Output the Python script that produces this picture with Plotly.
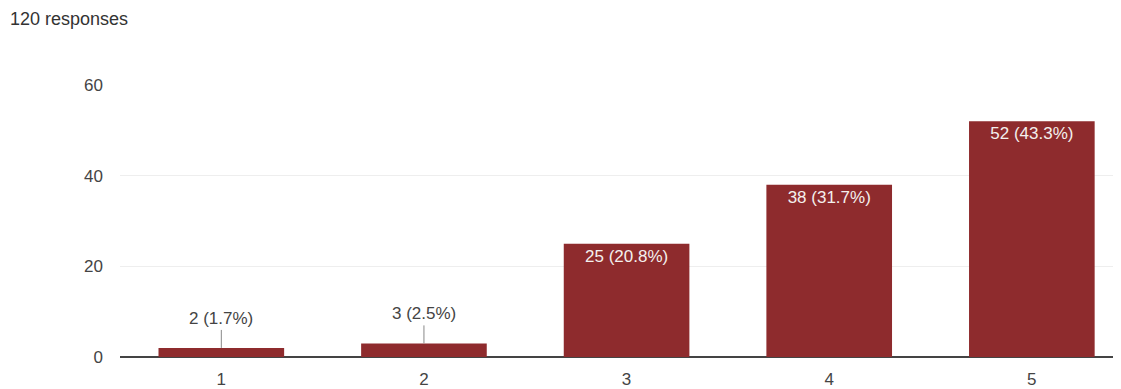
import plotly.graph_objects as go

categories = ["1", "2", "3", "4", "5"]
counts = [2, 3, 25, 38, 52]
total = 120
labels = [f"{c} ({c / total * 100:.1f}%)" for c in counts]
y_ticks = [0, 20, 40, 60]

bar_color = "#8e2b2d"
text_color = "#444444"
FONT = "Arial, Liberation Sans, sans-serif"

inside_text = [lab if c >= 10 else "" for c, lab in zip(counts, labels)]

fig = go.Figure()
fig.add_trace(go.Bar(
    x=list(range(len(categories))), y=counts,
    marker=dict(color=bar_color, line=dict(width=0)),
    text=inside_text, textposition="inside", insidetextanchor="end",
    textangle=0,
    textfont=dict(color="#f4f0ee", size=17, family=FONT),
    hoverinfo="skip",
))

for i, (c, lab) in enumerate(zip(counts, labels)):
    if c < 10:
        fig.add_annotation(
            x=i, y=c, text=lab, showarrow=True, arrowhead=0, arrowwidth=1,
            arrowcolor="#888888", ax=0, ay=-18, yanchor="bottom",
            font=dict(color=text_color, size=17, family=FONT),
        )

fig.add_annotation(
    text="120 responses", xref="paper", yref="paper", x=-0.1119, y=1.242,
    xanchor="left", yanchor="middle", showarrow=False,
    font=dict(color="#333333", size=18, family=FONT),
)

fig.update_layout(
    width=1113, height=381,
    margin=dict(l=112, r=0, t=77, b=32),
    paper_bgcolor="white", plot_bgcolor="white",
    bargap=0.38, showlegend=False,
    font=dict(family=FONT, size=17, color=text_color),
)
fig.update_xaxes(
    range=[-0.5, 4.44], showgrid=False, showline=False, zeroline=False,
    tickvals=list(range(len(categories))), ticktext=categories,
    ticks="", ticklabelstandoff=10, tickfont=dict(size=17, color=text_color),
)
fig.update_yaxes(
    range=[0, 60], tickvals=y_ticks, showgrid=True, gridcolor="#eeeeee",
    zeroline=True, zerolinecolor="#444444", zerolinewidth=1.5,
    showline=False, ticks="", ticklabelstandoff=16,
    tickfont=dict(size=17, color=text_color),
)

fig.write_html("out.html")
